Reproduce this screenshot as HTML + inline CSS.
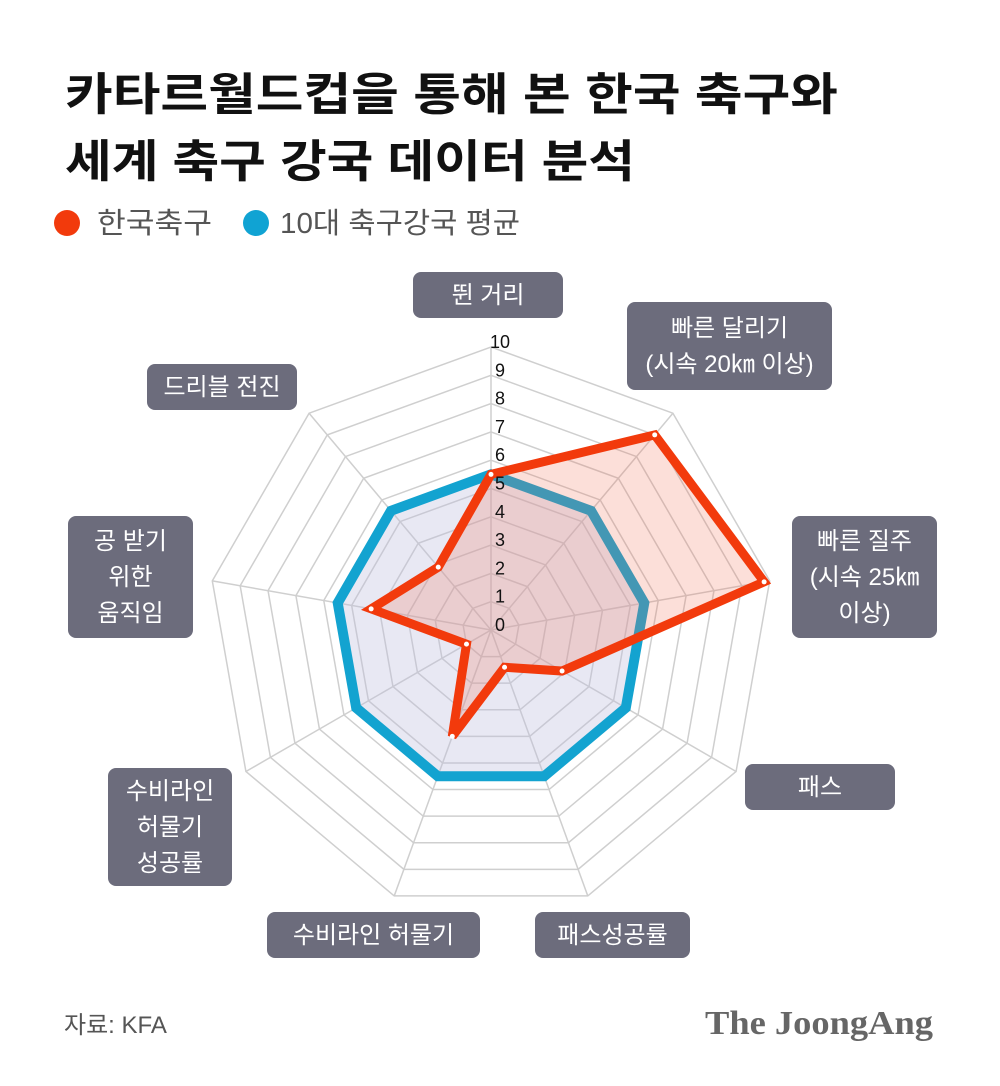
<!DOCTYPE html>
<html><head><meta charset="utf-8"><style>
html,body{margin:0;padding:0;background:#fff;}
svg text{font-family:"Liberation Sans","Noto Sans CJK KR",sans-serif;}
</style></head><body>
<svg id="chart" width="1000" height="1081" viewBox="0 0 1000 1081" xmlns="http://www.w3.org/2000/svg">
<rect width="1000" height="1081" fill="#fff"/>
<text x="65" y="110" font-size="45" font-weight="bold" fill="#111" textLength="773" lengthAdjust="spacingAndGlyphs">카타르월드컵을 통해 본 한국 축구와</text>
<text x="65" y="177" font-size="45" font-weight="bold" fill="#111" textLength="570" lengthAdjust="spacingAndGlyphs">세계 축구 강국 데이터 분석</text>
<g>
<circle cx="67" cy="223" r="13" fill="#f23a0c"/>
<text x="97" y="233" font-size="29" fill="#555" textLength="115" lengthAdjust="spacingAndGlyphs">한국축구</text>
<circle cx="256" cy="223" r="13" fill="#10a3d3"/>
<text x="280" y="233" font-size="29" fill="#555" textLength="240" lengthAdjust="spacingAndGlyphs">10대 축구강국 평균</text>
</g>
<g id="grid"></g>
<g id="series"></g>
<g id="ticks"></g>
<g id="labels"></g>
<text x="64" y="1033" font-size="24" fill="#555">자료: KFA</text>
<text x="705" y="1034" font-size="34" font-weight="bold" fill="#666" style="font-family:'Liberation Serif',serif" textLength="228" lengthAdjust="spacingAndGlyphs">The JoongAng</text>
</svg>
<script>
const categories=["뛴 거리","빠른 달리기 (시속 20㎞ 이상)","빠른 질주 (시속 25㎞ 이상)","패스","패스성공률","수비라인 허물기","수비라인 허물기 성공률","공 받기 위한 움직임","드리블 전진"];
const koreaValues=[5.5,9.0,9.8,2.9,1.4,4.0,1.0,4.3,2.9];
const top10Values=[5.5,5.5,5.5,5.5,5.5,5.5,5.5,5.5,5.5];
const tickLabels=["0","1","2","3","4","5","6","7","8","9","10"];
const maxValue=10;
const CX=491,CY=630,R=283;
const NS="http://www.w3.org/2000/svg";
function ang(i){return (-90+360/categories.length*i)*Math.PI/180;}
function pt(i,v){const r=v/maxValue*R;return [CX+r*Math.cos(ang(i)),CY+r*Math.sin(ang(i))];}
function mk(tag,attrs,parent){const e=document.createElementNS(NS,tag);for(const k in attrs)e.setAttribute(k,attrs[k]);parent.appendChild(e);return e;}
const grid=document.getElementById('grid');
for(let t=1;t<=maxValue;t++){
  const p=categories.map((c,i)=>pt(i,t).join(',')).join(' ');
  const e=mk('polygon',{points:p,fill:'none',stroke:'#cfcfcf','stroke-width':1.5},grid);
  
  
}
categories.forEach((c,i)=>{
  const [x,y]=pt(i,maxValue);
  const e=mk('line',{x1:CX,y1:CY,x2:x,y2:y,stroke:'#cfcfcf','stroke-width':1.5},grid);
  
  
});
const series=document.getElementById('series');
function drawSeries(vals,fill,stroke,w,name,dots){
  const p=vals.map((v,i)=>pt(i,v).join(',')).join(' ');
  const f=mk('polygon',{points:p,fill:fill,stroke:'none'},series);
  
  
  const l=mk('polygon',{points:p,fill:'none',stroke:stroke,'stroke-width':w,'stroke-linejoin':'miter'},series);
  
  
  if(dots)vals.forEach((v,i)=>{const [x,y]=pt(i,v);
    const d=mk('circle',{cx:x,cy:y,r:2.5,fill:'#fff'},series);
    
    });
}
drawSeries(top10Values,'rgba(190,190,220,0.35)','#13a3d0',10,'top10-average',false);
drawSeries(koreaValues,'rgba(240,110,80,0.22)','#f23a0c',9,'korea',true);
const ticks=document.getElementById('ticks');
tickLabels.forEach((t,i)=>{
  const y=CY-i/maxValue*R;
  const e=mk('text',{x:CX+9,y:y+1,'font-size':18,fill:'#111','text-anchor':'middle'},ticks);
  e.textContent=t;
  
  
});
const boxes=[
 {x:413,y:272,w:150,h:46,lines:["뛴 거리"]},
 {x:627,y:302,w:205,h:88,lines:["빠른 달리기","(시속 20㎞ 이상)"]},
 {x:792,y:516,w:145,h:122,lines:["빠른 질주","(시속 25㎞","이상)"]},
 {x:745,y:764,w:150,h:46,lines:["패스"]},
 {x:535,y:912,w:155,h:46,lines:["패스성공률"]},
 {x:267,y:912,w:213,h:46,lines:["수비라인 허물기"]},
 {x:108,y:768,w:124,h:118,lines:["수비라인","허물기","성공률"]},
 {x:68,y:516,w:125,h:122,lines:["공 받기","위한","움직임"]},
 {x:147,y:364,w:150,h:46,lines:["드리블 전진"]}
];
const labels=document.getElementById('labels');
boxes.forEach((b,i)=>{
  const g=mk('g',{},labels);
  
  
  mk('rect',{x:b.x,y:b.y,width:b.w,height:b.h,rx:8,fill:'#6c6c7c'},g);
  const n=b.lines.length, lh=36;
  b.lines.forEach((ln,j)=>{
    const t=mk('text',{x:b.x+b.w/2,y:b.y+b.h/2+(j-(n-1)/2)*lh+8,'font-size':24,fill:'#fff','text-anchor':'middle'},g);
    t.textContent=ln;
  });
});
</script>
</body></html>
